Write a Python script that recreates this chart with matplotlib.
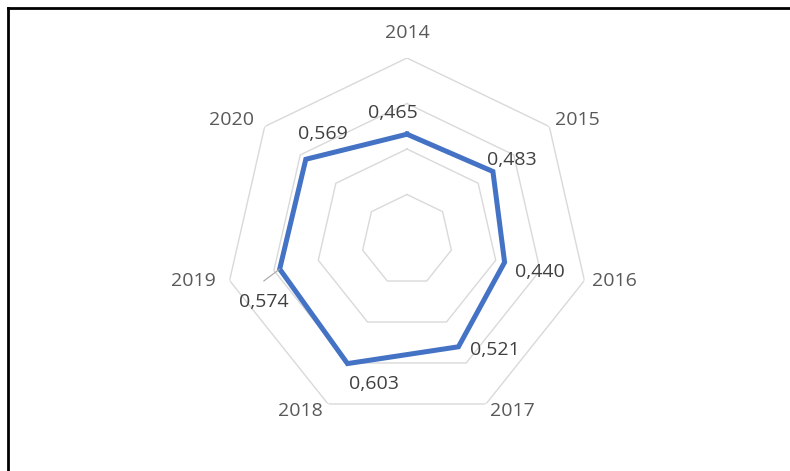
import numpy as np
import matplotlib
matplotlib.use("Agg")
import matplotlib.pyplot as plt
from matplotlib.lines import Line2D

categories = ["2014", "2015", "2016", "2017", "2018", "2019", "2020"]
values = [0.465, 0.483, 0.440, 0.521, 0.603, 0.574, 0.569]
value_labels = ["0,465", "0,483", "0,440", "0,521", "0,603", "0,574", "0,569"]
ring_levels = [0.2, 0.4, 0.6, 0.8]

plt.rcParams['font.family'] = ['Open Sans', 'DejaVu Sans']

W, H = 790, 471
fig = plt.figure(figsize=(W / 100, H / 100), dpi=100)
cx, cy, R = 407, 240, 182
ax = fig.add_axes([(cx - R) / W, (H - cy - R) / H, 2 * R / W, 2 * R / H], projection='polar')
ax.set_theta_zero_location('N')
ax.set_theta_direction(-1)
ax.set_ylim(0, 0.8)
ax.grid(False)
ax.spines['polar'].set_visible(False)
ax.set_xticks([])
ax.set_yticks([])
ax.patch.set_visible(False)

n = len(categories)
theta = np.linspace(0, 2 * np.pi, n, endpoint=False)
theta_c = np.append(theta, theta[0])

for lv in ring_levels:
    ax.plot(theta_c, [lv] * (n + 1), color='#D9D9D9', lw=1.0, zorder=1)

vals_c = values + [values[0]]
ax.plot(theta_c, vals_c, color='#4472C4', lw=3.6, solid_joinstyle='miter', zorder=3)

# category labels, offset (pixels) from the outer vertex
cat_offsets = [(0, 25), (28, 7), (30, -1), (26, -7), (-28, -7), (-36, -1), (-33, 7)]
rmax = ring_levels[-1]
for t, c, (dx, dy) in zip(theta, categories, cat_offsets):
    ax.annotate(c, (t, rmax), xytext=(dx, dy), textcoords='offset pixels',
                ha='center', va='center', fontsize=14, color='#595959',
                annotation_clip=False)

# data labels (pixel offsets)
offsets = [(-14, 21), (19, 11), (35, -10), (36, -3), (26, -20), (-16, -33), (17, 25)]
for t, v, s, (dx, dy) in zip(theta, values, value_labels, offsets):
    ax.annotate(s, (t, v), xytext=(dx, dy), textcoords='offset pixels',
                ha='center', va='center', fontsize=14, color='#404040',
                annotation_clip=False, zorder=4)

# leader line for 2019 label
ax.annotate("", (theta[5], values[5]), xytext=(-16, -12), textcoords='offset pixels',
            arrowprops=dict(arrowstyle='-', color='#A6A6A6', lw=0.8, shrinkA=0, shrinkB=0))

# outer border (left and top)
bx = 8 / W
by = 1 - 8 / H
fig.add_artist(Line2D([bx, 1], [by, by], transform=fig.transFigure, color='black', lw=2.0))
fig.add_artist(Line2D([bx, bx], [0, by], transform=fig.transFigure, color='black', lw=2.0))

fig.savefig('out.png', dpi=100)
